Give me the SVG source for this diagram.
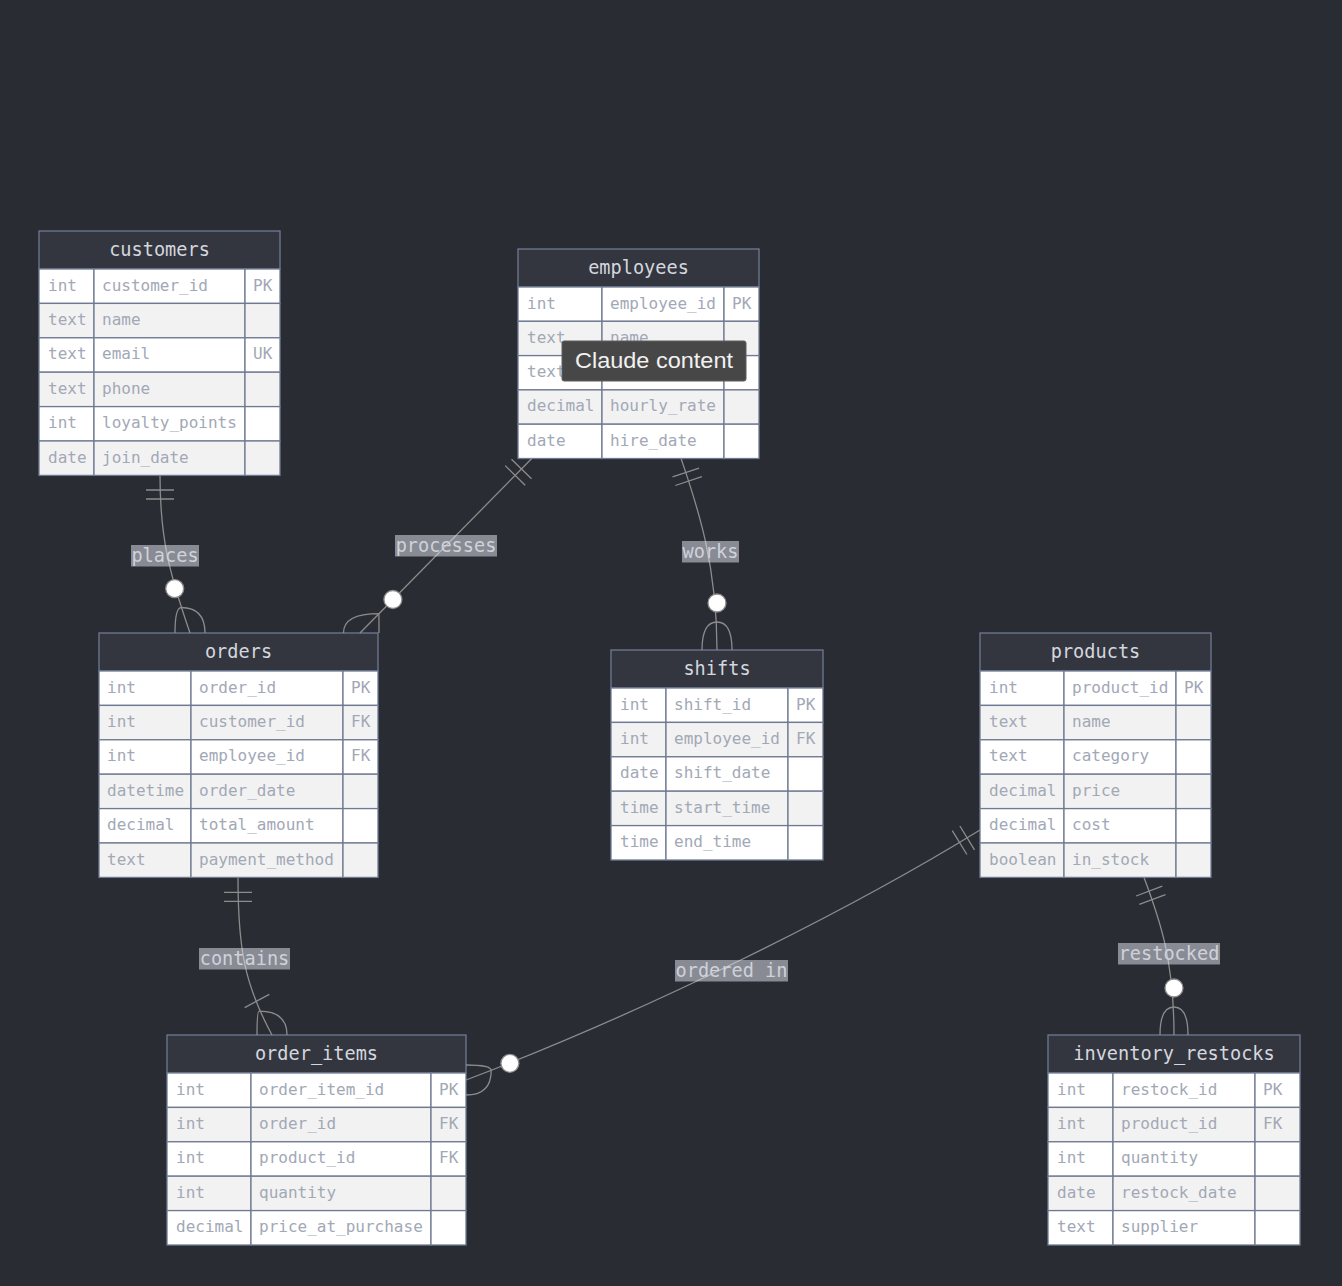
<svg xmlns="http://www.w3.org/2000/svg" width="1342" height="1286" viewBox="0 0 1342 1286">
  <style>
    .bg { fill: #2a2c34; }
    .hdr { fill: #33363f; stroke: #6f7a92; stroke-width: 1.3; }
    .r0 { fill: #ffffff; stroke: #6f7a92; stroke-width: 1.3; }
    .r1 { fill: #f2f2f2; stroke: #6f7a92; stroke-width: 1.3; }
    .tt { font-family: "DejaVu Sans Mono", "Liberation Mono", monospace; font-size: 18.6px; fill: #d4d7de; text-anchor: middle; }
    .at { font-family: "DejaVu Sans Mono", "Liberation Mono", monospace; font-size: 16px; fill: #a2a8b6; }
    .ln { fill: none; stroke: #8c8c8c; stroke-width: 1.3; }
    .dot { fill: #ffffff; stroke: #8c8c8c; stroke-width: 1.3; }
    .lb { fill: #e6eaf4; opacity: 0.5; }
    .lt { font-family: "DejaVu Sans Mono", "Liberation Mono", monospace; font-size: 18.6px; fill: #cfd2da; text-anchor: middle; }
    .tip { fill: #474747; stroke: #5e5e5e; stroke-width: 1; }
    .tipt { font-family: "Liberation Sans", Arial, sans-serif; font-size: 22px; fill: #f2f2f2; text-anchor: middle; }
  </style>

  <rect class="bg" x="0" y="0" width="1342" height="1286"/>

  <!-- customers -->
  <g id="customers">
    <rect class="hdr" x="39" y="231" width="241" height="38"/>
    <text class="tt" x="159.5" y="256">customers</text>
    <rect class="r0" x="39" y="269" width="55" height="34.4"/><rect class="r0" x="94" y="269" width="151" height="34.4"/><rect class="r0" x="245" y="269" width="35" height="34.4"/>
    <rect class="r1" x="39" y="303.4" width="55" height="34.4"/><rect class="r1" x="94" y="303.4" width="151" height="34.4"/><rect class="r1" x="245" y="303.4" width="35" height="34.4"/>
    <rect class="r0" x="39" y="337.8" width="55" height="34.4"/><rect class="r0" x="94" y="337.8" width="151" height="34.4"/><rect class="r0" x="245" y="337.8" width="35" height="34.4"/>
    <rect class="r1" x="39" y="372.2" width="55" height="34.4"/><rect class="r1" x="94" y="372.2" width="151" height="34.4"/><rect class="r1" x="245" y="372.2" width="35" height="34.4"/>
    <rect class="r0" x="39" y="406.6" width="55" height="34.4"/><rect class="r0" x="94" y="406.6" width="151" height="34.4"/><rect class="r0" x="245" y="406.6" width="35" height="34.4"/>
    <rect class="r1" x="39" y="441" width="55" height="34.4"/><rect class="r1" x="94" y="441" width="151" height="34.4"/><rect class="r1" x="245" y="441" width="35" height="34.4"/>
    <text class="at" x="48" y="290.5">int</text><text class="at" x="102" y="290.5">customer_id</text><text class="at" x="253" y="290.5">PK</text>
    <text class="at" x="48" y="324.9">text</text><text class="at" x="102" y="324.9">name</text>
    <text class="at" x="48" y="359.3">text</text><text class="at" x="102" y="359.3">email</text><text class="at" x="253" y="359.3">UK</text>
    <text class="at" x="48" y="393.7">text</text><text class="at" x="102" y="393.7">phone</text>
    <text class="at" x="48" y="428.1">int</text><text class="at" x="102" y="428.1">loyalty_points</text>
    <text class="at" x="48" y="462.5">date</text><text class="at" x="102" y="462.5">join_date</text>
  </g>

  <!-- employees -->
  <g id="employees">
    <rect class="hdr" x="518" y="249" width="241" height="38"/>
    <text class="tt" x="638.5" y="274">employees</text>
    <rect class="r0" x="518" y="287" width="84" height="34.3"/><rect class="r0" x="602" y="287" width="122" height="34.3"/><rect class="r0" x="724" y="287" width="35" height="34.3"/>
    <rect class="r1" x="518" y="321.3" width="84" height="34.3"/><rect class="r1" x="602" y="321.3" width="122" height="34.3"/><rect class="r1" x="724" y="321.3" width="35" height="34.3"/>
    <rect class="r0" x="518" y="355.6" width="84" height="34.3"/><rect class="r0" x="602" y="355.6" width="122" height="34.3"/><rect class="r0" x="724" y="355.6" width="35" height="34.3"/>
    <rect class="r1" x="518" y="389.9" width="84" height="34.3"/><rect class="r1" x="602" y="389.9" width="122" height="34.3"/><rect class="r1" x="724" y="389.9" width="35" height="34.3"/>
    <rect class="r0" x="518" y="424.2" width="84" height="34.3"/><rect class="r0" x="602" y="424.2" width="122" height="34.3"/><rect class="r0" x="724" y="424.2" width="35" height="34.3"/>
    <text class="at" x="527" y="308.5">int</text><text class="at" x="610" y="308.5">employee_id</text><text class="at" x="732" y="308.5">PK</text>
    <text class="at" x="527" y="342.8">text</text><text class="at" x="610" y="342.8">name</text>
    <text class="at" x="527" y="377.1">text</text>
    <text class="at" x="527" y="411.4">decimal</text><text class="at" x="610" y="411.4">hourly_rate</text>
    <text class="at" x="527" y="445.7">date</text><text class="at" x="610" y="445.7">hire_date</text>
  </g>

  <!-- orders -->
  <g id="orders">
    <rect class="hdr" x="99" y="633" width="279" height="38"/>
    <text class="tt" x="238.5" y="658">orders</text>
    <rect class="r0" x="99" y="671" width="92" height="34.4"/><rect class="r0" x="191" y="671" width="152" height="34.4"/><rect class="r0" x="343" y="671" width="35" height="34.4"/>
    <rect class="r1" x="99" y="705.4" width="92" height="34.4"/><rect class="r1" x="191" y="705.4" width="152" height="34.4"/><rect class="r1" x="343" y="705.4" width="35" height="34.4"/>
    <rect class="r0" x="99" y="739.8" width="92" height="34.4"/><rect class="r0" x="191" y="739.8" width="152" height="34.4"/><rect class="r0" x="343" y="739.8" width="35" height="34.4"/>
    <rect class="r1" x="99" y="774.2" width="92" height="34.4"/><rect class="r1" x="191" y="774.2" width="152" height="34.4"/><rect class="r1" x="343" y="774.2" width="35" height="34.4"/>
    <rect class="r0" x="99" y="808.6" width="92" height="34.4"/><rect class="r0" x="191" y="808.6" width="152" height="34.4"/><rect class="r0" x="343" y="808.6" width="35" height="34.4"/>
    <rect class="r1" x="99" y="843" width="92" height="34.4"/><rect class="r1" x="191" y="843" width="152" height="34.4"/><rect class="r1" x="343" y="843" width="35" height="34.4"/>
    <text class="at" x="107" y="692.5">int</text><text class="at" x="199" y="692.5">order_id</text><text class="at" x="351" y="692.5">PK</text>
    <text class="at" x="107" y="726.9">int</text><text class="at" x="199" y="726.9">customer_id</text><text class="at" x="351" y="726.9">FK</text>
    <text class="at" x="107" y="761.3">int</text><text class="at" x="199" y="761.3">employee_id</text><text class="at" x="351" y="761.3">FK</text>
    <text class="at" x="107" y="795.7">datetime</text><text class="at" x="199" y="795.7">order_date</text>
    <text class="at" x="107" y="830.1">decimal</text><text class="at" x="199" y="830.1">total_amount</text>
    <text class="at" x="107" y="864.5">text</text><text class="at" x="199" y="864.5">payment_method</text>
  </g>

  <!-- shifts -->
  <g id="shifts">
    <rect class="hdr" x="611" y="650" width="212" height="38"/>
    <text class="tt" x="717" y="675">shifts</text>
    <rect class="r0" x="611" y="688" width="55" height="34.4"/><rect class="r0" x="666" y="688" width="122" height="34.4"/><rect class="r0" x="788" y="688" width="35" height="34.4"/>
    <rect class="r1" x="611" y="722.4" width="55" height="34.4"/><rect class="r1" x="666" y="722.4" width="122" height="34.4"/><rect class="r1" x="788" y="722.4" width="35" height="34.4"/>
    <rect class="r0" x="611" y="756.8" width="55" height="34.4"/><rect class="r0" x="666" y="756.8" width="122" height="34.4"/><rect class="r0" x="788" y="756.8" width="35" height="34.4"/>
    <rect class="r1" x="611" y="791.2" width="55" height="34.4"/><rect class="r1" x="666" y="791.2" width="122" height="34.4"/><rect class="r1" x="788" y="791.2" width="35" height="34.4"/>
    <rect class="r0" x="611" y="825.6" width="55" height="34.4"/><rect class="r0" x="666" y="825.6" width="122" height="34.4"/><rect class="r0" x="788" y="825.6" width="35" height="34.4"/>
    <text class="at" x="620" y="709.5">int</text><text class="at" x="674" y="709.5">shift_id</text><text class="at" x="796" y="709.5">PK</text>
    <text class="at" x="620" y="743.9">int</text><text class="at" x="674" y="743.9">employee_id</text><text class="at" x="796" y="743.9">FK</text>
    <text class="at" x="620" y="778.3">date</text><text class="at" x="674" y="778.3">shift_date</text>
    <text class="at" x="620" y="812.7">time</text><text class="at" x="674" y="812.7">start_time</text>
    <text class="at" x="620" y="847.1">time</text><text class="at" x="674" y="847.1">end_time</text>
  </g>

  <!-- products -->
  <g id="products">
    <rect class="hdr" x="980" y="633" width="231" height="38"/>
    <text class="tt" x="1095.5" y="658">products</text>
    <rect class="r0" x="980" y="671" width="84" height="34.4"/><rect class="r0" x="1064" y="671" width="112" height="34.4"/><rect class="r0" x="1176" y="671" width="35" height="34.4"/>
    <rect class="r1" x="980" y="705.4" width="84" height="34.4"/><rect class="r1" x="1064" y="705.4" width="112" height="34.4"/><rect class="r1" x="1176" y="705.4" width="35" height="34.4"/>
    <rect class="r0" x="980" y="739.8" width="84" height="34.4"/><rect class="r0" x="1064" y="739.8" width="112" height="34.4"/><rect class="r0" x="1176" y="739.8" width="35" height="34.4"/>
    <rect class="r1" x="980" y="774.2" width="84" height="34.4"/><rect class="r1" x="1064" y="774.2" width="112" height="34.4"/><rect class="r1" x="1176" y="774.2" width="35" height="34.4"/>
    <rect class="r0" x="980" y="808.6" width="84" height="34.4"/><rect class="r0" x="1064" y="808.6" width="112" height="34.4"/><rect class="r0" x="1176" y="808.6" width="35" height="34.4"/>
    <rect class="r1" x="980" y="843" width="84" height="34.4"/><rect class="r1" x="1064" y="843" width="112" height="34.4"/><rect class="r1" x="1176" y="843" width="35" height="34.4"/>
    <text class="at" x="989" y="692.5">int</text><text class="at" x="1072" y="692.5">product_id</text><text class="at" x="1184" y="692.5">PK</text>
    <text class="at" x="989" y="726.9">text</text><text class="at" x="1072" y="726.9">name</text>
    <text class="at" x="989" y="761.3">text</text><text class="at" x="1072" y="761.3">category</text>
    <text class="at" x="989" y="795.7">decimal</text><text class="at" x="1072" y="795.7">price</text>
    <text class="at" x="989" y="830.1">decimal</text><text class="at" x="1072" y="830.1">cost</text>
    <text class="at" x="989" y="864.5">boolean</text><text class="at" x="1072" y="864.5">in_stock</text>
  </g>

  <!-- order_items -->
  <g id="order_items">
    <rect class="hdr" x="167" y="1035" width="299" height="38"/>
    <text class="tt" x="316.5" y="1060">order_items</text>
    <rect class="r0" x="167" y="1073" width="84" height="34.4"/><rect class="r0" x="251" y="1073" width="180" height="34.4"/><rect class="r0" x="431" y="1073" width="35" height="34.4"/>
    <rect class="r1" x="167" y="1107.4" width="84" height="34.4"/><rect class="r1" x="251" y="1107.4" width="180" height="34.4"/><rect class="r1" x="431" y="1107.4" width="35" height="34.4"/>
    <rect class="r0" x="167" y="1141.8" width="84" height="34.4"/><rect class="r0" x="251" y="1141.8" width="180" height="34.4"/><rect class="r0" x="431" y="1141.8" width="35" height="34.4"/>
    <rect class="r1" x="167" y="1176.2" width="84" height="34.4"/><rect class="r1" x="251" y="1176.2" width="180" height="34.4"/><rect class="r1" x="431" y="1176.2" width="35" height="34.4"/>
    <rect class="r0" x="167" y="1210.6" width="84" height="34.4"/><rect class="r0" x="251" y="1210.6" width="180" height="34.4"/><rect class="r0" x="431" y="1210.6" width="35" height="34.4"/>
    <text class="at" x="176" y="1094.5">int</text><text class="at" x="259" y="1094.5">order_item_id</text><text class="at" x="439" y="1094.5">PK</text>
    <text class="at" x="176" y="1128.9">int</text><text class="at" x="259" y="1128.9">order_id</text><text class="at" x="439" y="1128.9">FK</text>
    <text class="at" x="176" y="1163.3">int</text><text class="at" x="259" y="1163.3">product_id</text><text class="at" x="439" y="1163.3">FK</text>
    <text class="at" x="176" y="1197.7">int</text><text class="at" x="259" y="1197.7">quantity</text>
    <text class="at" x="176" y="1232.1">decimal</text><text class="at" x="259" y="1232.1">price_at_purchase</text>
  </g>

  <!-- inventory_restocks -->
  <g id="inventory_restocks">
    <rect class="hdr" x="1048" y="1035" width="252" height="38"/>
    <text class="tt" x="1174" y="1060">inventory_restocks</text>
    <rect class="r0" x="1048" y="1073" width="65" height="34.4"/><rect class="r0" x="1113" y="1073" width="142" height="34.4"/><rect class="r0" x="1255" y="1073" width="45" height="34.4"/>
    <rect class="r1" x="1048" y="1107.4" width="65" height="34.4"/><rect class="r1" x="1113" y="1107.4" width="142" height="34.4"/><rect class="r1" x="1255" y="1107.4" width="45" height="34.4"/>
    <rect class="r0" x="1048" y="1141.8" width="65" height="34.4"/><rect class="r0" x="1113" y="1141.8" width="142" height="34.4"/><rect class="r0" x="1255" y="1141.8" width="45" height="34.4"/>
    <rect class="r1" x="1048" y="1176.2" width="65" height="34.4"/><rect class="r1" x="1113" y="1176.2" width="142" height="34.4"/><rect class="r1" x="1255" y="1176.2" width="45" height="34.4"/>
    <rect class="r0" x="1048" y="1210.6" width="65" height="34.4"/><rect class="r0" x="1113" y="1210.6" width="142" height="34.4"/><rect class="r0" x="1255" y="1210.6" width="45" height="34.4"/>
    <text class="at" x="1057" y="1094.5">int</text><text class="at" x="1121" y="1094.5">restock_id</text><text class="at" x="1263" y="1094.5">PK</text>
    <text class="at" x="1057" y="1128.9">int</text><text class="at" x="1121" y="1128.9">product_id</text><text class="at" x="1263" y="1128.9">FK</text>
    <text class="at" x="1057" y="1163.3">int</text><text class="at" x="1121" y="1163.3">quantity</text>
    <text class="at" x="1057" y="1197.7">date</text><text class="at" x="1121" y="1197.7">restock_date</text>
    <text class="at" x="1057" y="1232.1">text</text><text class="at" x="1121" y="1232.1">supplier</text>
  </g>

  <!-- relationships: line, cardinality bars, crow's feet, optional circle -->
  <g id="connectors">
    <!-- customers places orders: exactly one to zero or more -->
    <path class="ln" d="M160,475.4 C160,540 170,575 190,633"/>
    <path class="ln" d="M146,490 H174 M146,499 H174"/>
    <path class="ln" d="M181.2,607.5 Q175,607.5 175,633 M181.2,607.5 Q205,607.5 205,633"/>
    <circle class="dot" cx="174.7" cy="588.6" r="9"/>

    <!-- employees processes orders: exactly one to zero or more -->
    <path class="ln" d="M532,458.3 L360,633"/>
    <path class="ln" d="M511.5,459.2 L531.5,478.8 M505.2,465.6 L525.2,485.2"/>
    <path class="ln" d="M378.9,613.7 Q343.5,613.7 343.5,633 M378.9,613.7 Q379,620 379,633"/>
    <circle class="dot" cx="392.9" cy="599.5" r="9"/>

    <!-- employees works shifts: exactly one to zero or more -->
    <path class="ln" d="M681,458.3 C695,500 717,560 717,650"/>
    <path class="ln" d="M672.5,476.9 L699.1,468.1 M675.3,485.5 L701.9,476.7"/>
    <path class="ln" d="M717,622 Q702,622 702,650 M717,622 Q732,622 732,650"/>
    <circle class="dot" cx="717" cy="603" r="9"/>

    <!-- orders contains order_items: exactly one to one or more -->
    <path class="ln" d="M238,877.4 C238,950 245,985 272,1035"/>
    <path class="ln" d="M224,892.4 H252 M224,901.4 H252"/>
    <path class="ln" d="M244.7,1007.6 L269.3,994.4"/>
    <path class="ln" d="M259.2,1011.2 Q257,1011.2 257,1035 M259.2,1011.2 Q287,1011.2 287,1035"/>

    <!-- products ordered in order_items: exactly one to zero or more -->
    <path class="ln" d="M980,830 C850,910 650,1010 466,1080"/>
    <path class="ln" d="M959.9,826 L974.5,849.8 M952.3,830.7 L966.9,854.5"/>
    <path class="ln" d="M491.2,1070.4 Q491.2,1065 466,1065 M491.2,1070.4 Q491.2,1095 466,1095"/>
    <circle class="dot" cx="509.9" cy="1063.3" r="9"/>

    <!-- products restocked inventory_restocks: exactly one to zero or more -->
    <path class="ln" d="M1144,877.4 C1160,920 1174,960 1174,1035"/>
    <path class="ln" d="M1136.1,896 L1162.3,886.2 M1139.3,904.4 L1165.5,894.6"/>
    <path class="ln" d="M1174,1007 Q1160,1007 1160,1035 M1174,1007 Q1188,1007 1188,1035"/>
    <circle class="dot" cx="1174" cy="988" r="9"/>
  </g>

  <!-- relationship labels -->
  <g id="labels">
    <rect class="lb" x="131" y="545" width="68" height="21.5"/>
    <text class="lt" x="165" y="561.5">places</text>
    <rect class="lb" x="395" y="535" width="102" height="21.5"/>
    <text class="lt" x="446" y="551.5">processes</text>
    <rect class="lb" x="682" y="541" width="57" height="21.5"/>
    <text class="lt" x="710.5" y="557.5">works</text>
    <rect class="lb" x="199" y="948" width="91" height="21.5"/>
    <text class="lt" x="244.5" y="964.5">contains</text>
    <rect class="lb" x="675" y="960" width="113" height="21.5"/>
    <text class="lt" x="731.5" y="976.5">ordered in</text>
    <rect class="lb" x="1118" y="943" width="102" height="21.5"/>
    <text class="lt" x="1169" y="959.5">restocked</text>
  </g>

  <!-- hover tooltip -->
  <g id="tooltip">
    <rect class="tip" x="562" y="341" width="184" height="40" rx="2"/>
    <text class="tipt" x="654" y="368" textLength="158" lengthAdjust="spacingAndGlyphs">Claude content</text>
  </g>
</svg>
